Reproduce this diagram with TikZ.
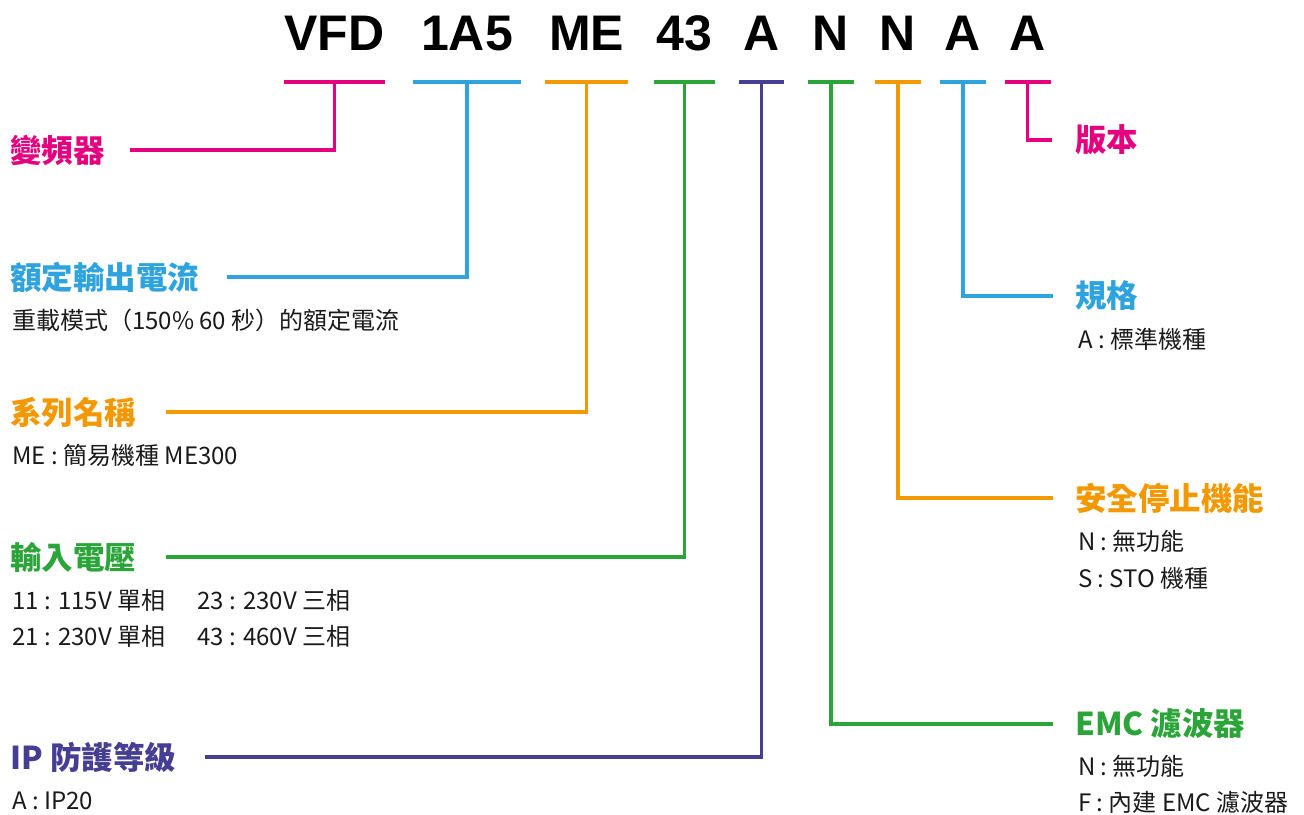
\documentclass[tikz,border=0pt]{standalone}
\usepackage{fontspec}
\setmainfont{Noto Sans CJK TC}
\newfontfamily\codefont{Liberation Sans}
\usetikzlibrary{positioning}
\definecolor{vpink}{HTML}{E4007F}
\definecolor{vblue}{HTML}{2EA3DD}
\definecolor{vorange}{HTML}{F39800}
\definecolor{vgreen}{HTML}{2BA53A}
\definecolor{vpurple}{HTML}{463E92}
\definecolor{vtext}{HTML}{1A1A1A}

\begin{document}
\begin{tikzpicture}[x=1pt,y=-1pt,
  code/.style={font=\codefont\bfseries\fontsize{50}{50}\selectfont, anchor=base, inner sep=0},
  bar/.style={line width=3.5pt},
  head/.style={font=\bfseries\fontsize{31.5}{31.5}\selectfont, anchor=west, inner sep=0},
  desc/.style={font=\fontsize{24}{28}\selectfont, text=vtext, inner sep=0,
    text height=20pt, text depth=2pt}]
\useasboundingbox (0,0) rectangle (1304,814);

% model code and its bars
\foreach \n/\x/\w/\t/\col in {1/334.5/101/VFD/vpink, 2/467/108/1A5/vblue,
    3/586.5/83/ME/vorange, 4/684.5/61/43/vgreen, 5/761.5/45/A/vpurple,
    6/831/46/N/vgreen, 7/898/46/N/vorange, 8/963/46/A/vblue, 9/1027.5/46/A/vpink} {
  \node[code] (c\n) at (\x,50) {\t};
  \coordinate (t\n) at (\x,82);
  \draw[bar,\col] ([xshift=-\w/2]t\n) -- ([xshift=\w/2]t\n);
}

% left side
\node[head,text=vpink] (h1) at (10,150) {變頻器};
\node[head,text=vblue] (h2) at (10,277) {額定輸出電流};
\node[desc,below=43pt of h2.west,anchor=west,xshift=2pt] (d2) {重載模式（150\% 60 秒）的額定電流};
\node[head,text=vorange] (h3) at (10,412) {系列名稱};
\node[desc,below=43pt of h3.west,anchor=west,xshift=2pt] (d3) {ME : 簡易機種 ME300};
\node[head,text=vgreen] (h4) at (10,557) {輸入電壓};
\node[desc,below=43pt of h4.west,anchor=west,xshift=2pt] (d4a) {\makebox[185pt][l]{11 : 115V 單相}23 : 230V 三相};
\node[desc,below=36pt of d4a.west,anchor=west] (d4b) {\makebox[185pt][l]{21 : 230V 單相}43 : 460V 三相};
\node[head,text=vpurple] (h5) at (10,757) {IP 防護等級};
\node[desc,below=43pt of h5.west,anchor=west,xshift=2pt] (d5) {A : IP20};

% right side
\node[head,text=vpink] (h9) at (1075,140) {版本};
\node[head,text=vblue] (h8) at (1075,296) {規格};
\node[desc,below=43pt of h8.west,anchor=west,xshift=3pt] (d8) {A : 標準機種};
\node[head,text=vorange] (h7) at (1075,498) {安全停止機能};
\node[desc,below=43pt of h7.west,anchor=west,xshift=3pt] (d7a) {N : 無功能};
\node[desc,below=37pt of d7a.west,anchor=west] (d7b) {S : STO 機種};
\node[head,text=vgreen] (h6) at (1075,724) {EMC 濾波器};
\node[desc,below=42pt of h6.west,anchor=west,xshift=3pt] (d6a) {N : 無功能};
\node[desc,below=36pt of d6a.west,anchor=west] (d6b) {F : 內建 EMC 濾波器};

% connectors
\draw[bar,vpink] (t1) |- ([xshift=25pt]h1.east);
\draw[bar,vblue] (t2) |- ([xshift=28pt]h2.east);
\draw[bar,vorange] (t3) |- ([xshift=30pt]h3.east);
\draw[bar,vgreen] (t4) |- ([xshift=30pt]h4.east);
\draw[bar,vpurple] (t5) |- ([xshift=29pt]h5.east);
\draw[bar,vgreen] (t6) |- ([xshift=-22pt]h6.west);
\draw[bar,vorange] (t7) |- ([xshift=-22pt]h7.west);
\draw[bar,vblue] (t8) |- ([xshift=-22pt]h8.west);
\draw[bar,vpink] (t9) |- ([xshift=-23pt]h9.west);
\end{tikzpicture}
\end{document}
